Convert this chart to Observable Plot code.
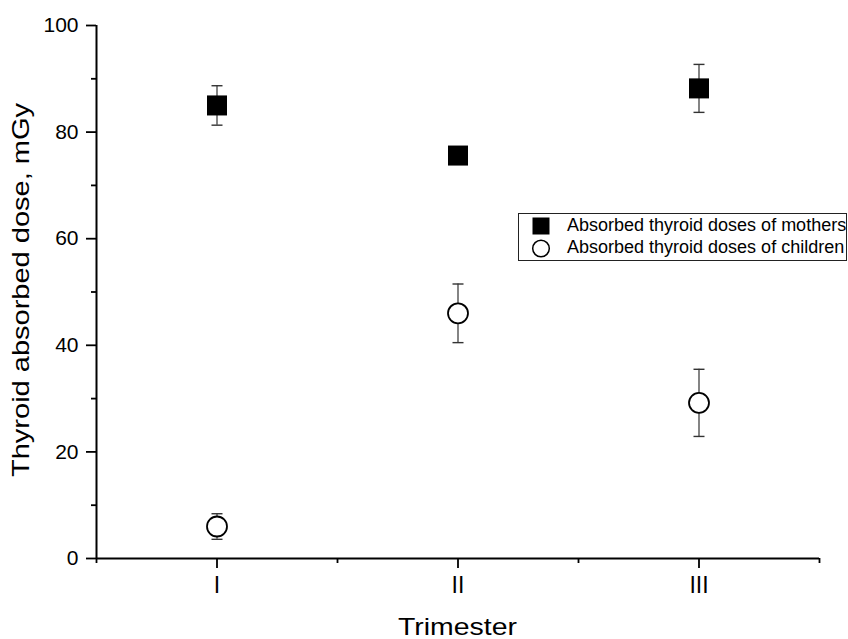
<!DOCTYPE html>
<html>
<head>
<meta charset="utf-8">
<script src="https://cdn.jsdelivr.net/npm/d3@7"></script>
<script src="https://cdn.jsdelivr.net/npm/@observablehq/plot@0.6"></script>
<style>
  body { margin: 0; background: #fff; }
  svg { display: block; }
</style>
</head>
<body>
<div id="chart"></div>
<script>
// ---- data ----
const trimesters = ["I", "II", "III"];
const motherDose = [85.0, 75.6, 88.2];
const motherErr = [3.7, 1.0, 4.5];
const childDose = [6.0, 46.0, 29.2];
const childErr = [2.4, 5.5, 6.3];
const yMajorTicks = [0, 20, 40, 60, 80, 100];
const yMinorTicks = [10, 30, 50, 70, 90];
const xMajorTicks = [1, 2, 3];
const xMinorTicks = [0.5, 1.5, 2.5, 3.5];
const seriesNames = ["Absorbed thyroid doses of mothers", "Absorbed thyroid doses of children"];
const xTitle = "Trimester";
const yTitle = "Thyroid absorbed dose, mGy";

// ---- build rows ----
const mothers = trimesters.map((t, i) => ({x: i + 1, v: motherDose[i], e: motherErr[i]}));
const children = trimesters.map((t, i) => ({x: i + 1, v: childDose[i], e: childErr[i]}));
const all = [...mothers, ...children];

const cap = {draw(context) { context.moveTo(-5.5, 0); context.lineTo(5.5, 0); }};
const font = "'Liberation Sans', Arial, sans-serif";

const W = 848, H = 639;
const svg = Plot.plot({
  width: W,
  height: H,
  marginLeft: 96,
  marginRight: 29,
  marginTop: 25,
  marginBottom: 81,
  style: {fontFamily: font, fontSize: "20px", background: "white", color: "black"},
  x: {domain: [0.5, 3.5], axis: null},
  y: {domain: [0, 100], axis: null},
  marks: [
    // minor ticks
    Plot.axisY({ticks: yMinorTicks, tickSize: 5, tickFormat: () => "", strokeWidth: 1.8, label: null}),
    Plot.axisX({ticks: xMinorTicks, tickSize: 5, tickFormat: () => "", strokeWidth: 1.8, label: null}),
    // major ticks
    Plot.axisY({ticks: yMajorTicks, tickSize: 10, tickPadding: 8, strokeWidth: 1.8, fontSize: 21, label: null}),
    Plot.axisX({ticks: xMajorTicks, tickSize: 10, tickPadding: 8, strokeWidth: 1.8, fontSize: 23,
      tickFormat: d => trimesters[d - 1], label: null}),
    // axis lines
    Plot.ruleX([0.5], {y1: 0, y2: 100, stroke: "black", strokeWidth: 2}),
    Plot.ruleY([0], {x1: 0.5, x2: 3.5, stroke: "black", strokeWidth: 2}),
    // error bars
    Plot.ruleX(all, {x: "x", y1: d => d.v - d.e, y2: d => d.v + d.e, stroke: "#333", strokeWidth: 1.2}),
    Plot.dot(all, {x: "x", y: d => d.v + d.e, symbol: cap, stroke: "#333", strokeWidth: 1.4, r: 5}),
    Plot.dot(all, {x: "x", y: d => d.v - d.e, symbol: cap, stroke: "#333", strokeWidth: 1.4, r: 5}),
    // markers
    Plot.dot(mothers, {x: "x", y: "v", symbol: "square", r: 11.3, fill: "black", stroke: "none"}),
    Plot.dot(children, {x: "x", y: "v", symbol: "circle", r: 10, fill: "white", stroke: "black", strokeWidth: 1.8})
  ]
});

const s = d3.select(svg);
// axis titles
s.append("text")
  .attr("x", 457.5).attr("y", 635)
  .attr("text-anchor", "middle")
  .attr("font-family", font).attr("font-size", 24)
  .attr("textLength", 119).attr("lengthAdjust", "spacingAndGlyphs")
  .attr("fill", "black")
  .text(xTitle);
s.append("text")
  .attr("transform", "translate(29,290) rotate(-90)")
  .attr("text-anchor", "middle")
  .attr("font-family", font).attr("font-size", 24)
  .attr("textLength", 374).attr("lengthAdjust", "spacingAndGlyphs")
  .attr("fill", "black")
  .text(yTitle);

// legend
const lg = s.append("g").attr("text-anchor", "start");
lg.append("rect").attr("x", 518.5).attr("y", 213.5).attr("width", 328).attr("height", 47)
  .attr("fill", "white").attr("stroke", "#222").attr("stroke-width", 1);
lg.append("rect").attr("x", 532.5).attr("y", 217.5).attr("width", 17).attr("height", 17).attr("fill", "black");
lg.append("circle").attr("cx", 541).attr("cy", 248.5).attr("r", 8.3)
  .attr("fill", "white").attr("stroke", "black").attr("stroke-width", 1.5);
lg.append("text").attr("x", 567).attr("y", 231).attr("text-anchor", "start")
  .attr("font-family", font).attr("font-size", 18)
  .attr("fill", "black").text(seriesNames[0]);
lg.append("text").attr("x", 567).attr("y", 253).attr("text-anchor", "start")
  .attr("font-family", font).attr("font-size", 18)
  .attr("fill", "black").text(seriesNames[1]);

document.getElementById("chart").appendChild(svg);
</script>
</body>
</html>
